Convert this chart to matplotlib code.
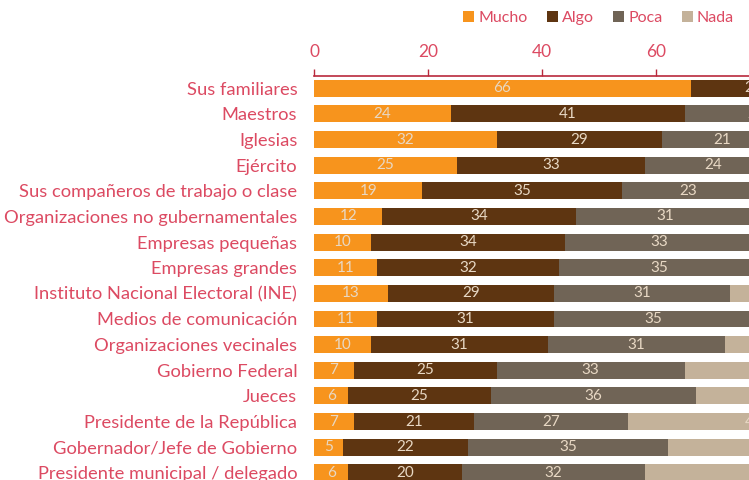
import matplotlib
matplotlib.use("Agg")
import matplotlib.pyplot as plt
import numpy as np

categories = [
    "Sus familiares",
    "Maestros",
    "Iglesias",
    "Ejército",
    "Sus compañeros de trabajo o clase",
    "Organizaciones no gubernamentales",
    "Empresas pequeñas",
    "Empresas grandes",
    "Instituto Nacional Electoral (INE)",
    "Medios de comunicación",
    "Organizaciones vecinales",
    "Gobierno Federal",
    "Jueces",
    "Presidente de la República",
    "Gobernador/Jefe de Gobierno",
    "Presidente municipal / delegado",
]
mucho = [66, 24, 32, 25, 19, 12, 10, 11, 13, 11, 10, 7, 6, 7, 5, 6]
algo = [22, 41, 29, 33, 35, 34, 34, 32, 29, 31, 31, 25, 25, 21, 22, 20]
poca = [8, 25, 21, 24, 23, 31, 33, 35, 31, 35, 31, 33, 36, 27, 35, 32]
nada = [3, 9, 16, 16, 20, 18, 20, 19, 25, 21, 25, 33, 31, 44, 36, 40]
series_names = ["Mucho", "Algo", "Poca", "Nada"]
series_colors = ["#F7941D", "#5E3511", "#706456", "#C4B29A"]
xticks = [0, 20, 40, 60, 80, 100]

TEXT = "#DC4A62"
AXIS = "#B9293C"
VAL = "#E8D8C4"
FONT = ["Lato", "DejaVu Sans"]
plt.rcParams["font.family"] = FONT

W, H = 749, 480
fig = plt.figure(figsize=(W / 100, H / 100), dpi=100)

# axes geometry in pixels (extends past the right and bottom edges, as in the cropped original)
left_px, top_px, unit_px, row_px = 314, 75.5, 5.705, 25.63
n = len(categories)
width_px = 100 * unit_px
height_px = n * row_px
ax = fig.add_axes([left_px / W, (H - top_px - height_px) / H, width_px / W, height_px / H])

y = np.arange(n)
data = [mucho, algo, poca, nada]
left = np.zeros(n)
for name, vals, col in zip(series_names, data, series_colors):
    vals = np.array(vals, dtype=float)
    bars = ax.barh(y, vals, left=left, height=0.66, color=col, label=name)
    ax.bar_label(bars, labels=[str(int(v)) for v in vals], label_type="center",
                 color=VAL, fontsize=11)
    left += vals

ax.set_xlim(0, 100)
ax.set_ylim(n - 0.5, -0.5)
ax.set_yticks(y)
ax.set_yticklabels(categories, color=TEXT, fontsize=13.2)
ax.tick_params(axis="y", length=0, pad=12)
ax.xaxis.tick_top()
ax.set_xticks(xticks)
ax.set_xticklabels([str(t) for t in xticks], color=TEXT, fontsize=12.5)
ax.tick_params(axis="x", colors=AXIS, labelcolor=TEXT, length=5, width=1, pad=6, direction="out")
for s in ["bottom", "left", "right"]:
    ax.spines[s].set_visible(False)
ax.spines["top"].set_color(AXIS)
ax.spines["top"].set_linewidth(1.2)

handles, labels = ax.get_legend_handles_labels()
leg = fig.legend(handles, labels, loc="upper left", ncol=4,
                 bbox_to_anchor=(463 / W, 1 - 11 / H), frameon=False,
                 handlelength=0.7, handleheight=0.7, handletextpad=0.25,
                 columnspacing=1.2, borderpad=0, borderaxespad=0,
                 prop={"size": 11.5, "family": FONT})
for t in leg.get_texts():
    t.set_color(TEXT)

fig.savefig("out.png", dpi=100)
